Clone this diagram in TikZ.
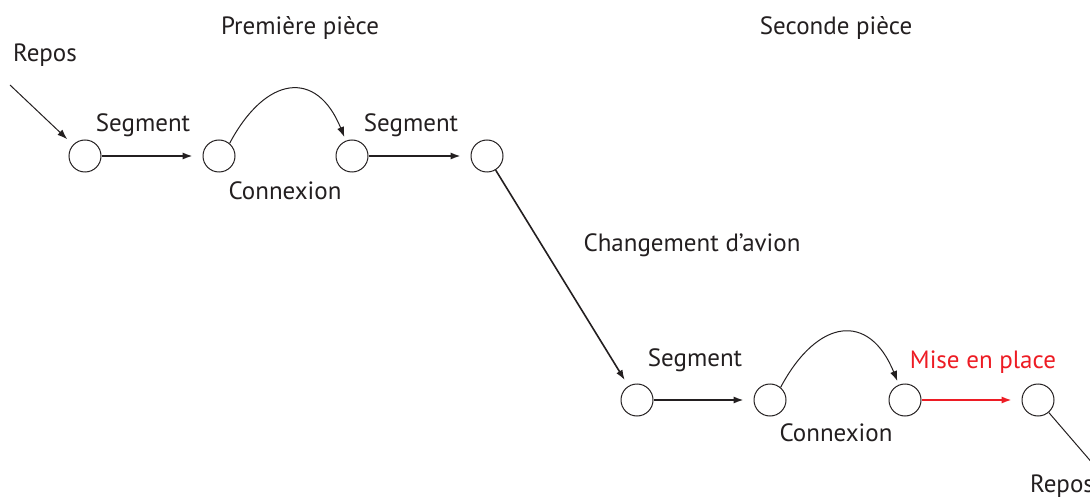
\documentclass[tikz,border=0pt]{standalone}
\usepackage{fontspec}
\setmainfont{PT Sans}
\usetikzlibrary{arrows.meta}
\definecolor{inkgray}{RGB}{35,31,32}
\definecolor{mepred}{RGB}{237,28,36}

\begin{document}
\begin{tikzpicture}[
    x=0.5pt, y=0.5pt,
    font=\fontsize{12.5}{15}\selectfont,
    every node/.style={text=inkgray},
    stop/.style={circle, draw=inkgray, line width=0.5pt, minimum size=16pt, inner sep=0pt},
    flow/.style={-{Latex[length=5pt,width=3.6pt]}, draw=inkgray, line width=0.8pt, shorten >=5pt},
    thinflow/.style={-{Latex[length=5pt,width=3.6pt]}, draw=inkgray, line width=0.5pt}
]
\useasboundingbox (0,0) rectangle (1090,498);
\clip (0,0) rectangle (1090,498);

% Premiere piece
\node[stop] (p1) at (85,342) {};
\node[stop] (p2) at (219,342) {};
\node[stop] (p3) at (352,342) {};
\node[stop] (p4) at (487,342) {};

% Seconde piece
\node[stop] (s1) at (637,98) {};
\node[stop] (s2) at (770,98) {};
\node[stop] (s3) at (905,98) {};
\node[stop] (s4) at (1038,98) {};

% Titles
\node (t1) at (300,470) {Première pièce};
\node (t2) at (836,470) {Seconde pièce};

% Repos in / out
\node (rin) at (45,443) {Repos};
\coordinate (rinstart) at (10,413);
\node (rout) at (1062,12) {Repos};
\coordinate (routend) at (1100,26);

\draw[thinflow, shorten >=4pt] (rinstart) -- (p1);
\draw[draw=inkgray, line width=0.5pt] (s4) -- (routend);

% Segments and connexions
\draw[flow] (p1) -- (p2);
\draw[thinflow, shorten >=2pt] (p2.50) to[out=62, in=112, looseness=1.7] (p3);
\draw[flow] (p3) -- (p4);
\draw[flow, shorten >=3.5pt] (p4) -- (s1);
\draw[flow] (s1) -- (s2);
\draw[thinflow, shorten >=2pt] (s2.50) to[out=62, in=112, looseness=1.7] (s3);
\draw[flow, draw=mepred] (s3) -- (s4);

% Labels
\node (seg1) at (143,373) {Segment};
\node (con1) at (285,307) {Connexion};
\node (seg2) at (411,373) {Segment};
\node (chg) at (692,253) {Changement d’avion};
\node (seg3) at (695,138) {Segment};
\node (con2) at (836,65) {Connexion};
\node[text=mepred] (mep) at (983,136) {Mise en place};

\end{tikzpicture}
\end{document}
